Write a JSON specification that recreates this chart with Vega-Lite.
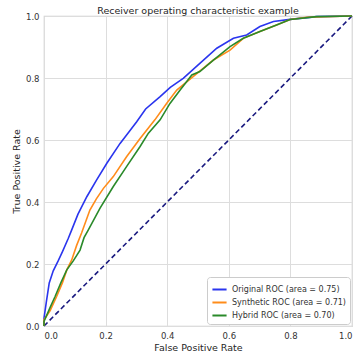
{
  "$schema": "https://vega.github.io/schema/vega-lite/v6.json",
  "autosize": {"type": "none"},
  "padding": {"left": 44, "top": 16, "right": 3, "bottom": 30},
  "width": 308,
  "height": 310,
  "title": {"text": "Receiver operating characteristic example", "fontSize": 9.5, "fontWeight": "normal", "font": "DejaVu Sans", "color": "#262626", "offset": -3},
  "config": {
    "view": {"stroke": "#cccccc", "strokeWidth": 1.2},
    "axis": {"grid": true, "gridColor": "#dddddd", "gridWidth": 1, "domain": false, "ticks": false, "labelFont": "DejaVu Sans", "labelFontSize": 8.5, "labelColor": "#333333", "titleFont": "DejaVu Sans", "titleFontSize": 9.5, "titleFontWeight": "normal", "titleColor": "#262626", "labelPadding": 5},
    "legend": {"labelFont": "DejaVu Sans", "labelFontSize": 8, "labelColor": "#333333"}
  },
  "datasets": {
    "roc": [
      {"model": "Original ROC (area = 0.75)", "fpr": 0, "tpr": 0},
      {"model": "Original ROC (area = 0.75)", "fpr": 0, "tpr": 0.025},
      {"model": "Original ROC (area = 0.75)", "fpr": 0.008, "tpr": 0.08},
      {"model": "Original ROC (area = 0.75)", "fpr": 0.017, "tpr": 0.139},
      {"model": "Original ROC (area = 0.75)", "fpr": 0.03, "tpr": 0.178},
      {"model": "Original ROC (area = 0.75)", "fpr": 0.046, "tpr": 0.21},
      {"model": "Original ROC (area = 0.75)", "fpr": 0.06, "tpr": 0.24},
      {"model": "Original ROC (area = 0.75)", "fpr": 0.079, "tpr": 0.283},
      {"model": "Original ROC (area = 0.75)", "fpr": 0.09, "tpr": 0.31},
      {"model": "Original ROC (area = 0.75)", "fpr": 0.11, "tpr": 0.36},
      {"model": "Original ROC (area = 0.75)", "fpr": 0.139, "tpr": 0.417},
      {"model": "Original ROC (area = 0.75)", "fpr": 0.17, "tpr": 0.47},
      {"model": "Original ROC (area = 0.75)", "fpr": 0.204, "tpr": 0.525},
      {"model": "Original ROC (area = 0.75)", "fpr": 0.247, "tpr": 0.589},
      {"model": "Original ROC (area = 0.75)", "fpr": 0.275, "tpr": 0.625},
      {"model": "Original ROC (area = 0.75)", "fpr": 0.301, "tpr": 0.659},
      {"model": "Original ROC (area = 0.75)", "fpr": 0.33, "tpr": 0.7},
      {"model": "Original ROC (area = 0.75)", "fpr": 0.377, "tpr": 0.74},
      {"model": "Original ROC (area = 0.75)", "fpr": 0.41, "tpr": 0.77},
      {"model": "Original ROC (area = 0.75)", "fpr": 0.452, "tpr": 0.799},
      {"model": "Original ROC (area = 0.75)", "fpr": 0.506, "tpr": 0.847},
      {"model": "Original ROC (area = 0.75)", "fpr": 0.561, "tpr": 0.896},
      {"model": "Original ROC (area = 0.75)", "fpr": 0.615, "tpr": 0.928},
      {"model": "Original ROC (area = 0.75)", "fpr": 0.658, "tpr": 0.939},
      {"model": "Original ROC (area = 0.75)", "fpr": 0.701, "tpr": 0.966},
      {"model": "Original ROC (area = 0.75)", "fpr": 0.745, "tpr": 0.982},
      {"model": "Original ROC (area = 0.75)", "fpr": 0.799, "tpr": 0.989},
      {"model": "Original ROC (area = 0.75)", "fpr": 0.885, "tpr": 0.998},
      {"model": "Original ROC (area = 0.75)", "fpr": 1, "tpr": 1},
      {"model": "Synthetic ROC (area = 0.71)", "fpr": 0, "tpr": 0},
      {"model": "Synthetic ROC (area = 0.71)", "fpr": 0, "tpr": 0.02},
      {"model": "Synthetic ROC (area = 0.71)", "fpr": 0.02, "tpr": 0.05},
      {"model": "Synthetic ROC (area = 0.71)", "fpr": 0.041, "tpr": 0.095},
      {"model": "Synthetic ROC (area = 0.71)", "fpr": 0.06, "tpr": 0.14},
      {"model": "Synthetic ROC (area = 0.71)", "fpr": 0.074, "tpr": 0.181},
      {"model": "Synthetic ROC (area = 0.71)", "fpr": 0.09, "tpr": 0.213},
      {"model": "Synthetic ROC (area = 0.71)", "fpr": 0.106, "tpr": 0.26},
      {"model": "Synthetic ROC (area = 0.71)", "fpr": 0.122, "tpr": 0.3},
      {"model": "Synthetic ROC (area = 0.71)", "fpr": 0.149, "tpr": 0.374},
      {"model": "Synthetic ROC (area = 0.71)", "fpr": 0.17, "tpr": 0.41},
      {"model": "Synthetic ROC (area = 0.71)", "fpr": 0.193, "tpr": 0.444},
      {"model": "Synthetic ROC (area = 0.71)", "fpr": 0.225, "tpr": 0.482},
      {"model": "Synthetic ROC (area = 0.71)", "fpr": 0.268, "tpr": 0.546},
      {"model": "Synthetic ROC (area = 0.71)", "fpr": 0.312, "tpr": 0.605},
      {"model": "Synthetic ROC (area = 0.71)", "fpr": 0.36, "tpr": 0.665},
      {"model": "Synthetic ROC (area = 0.71)", "fpr": 0.398, "tpr": 0.718},
      {"model": "Synthetic ROC (area = 0.71)", "fpr": 0.431, "tpr": 0.761},
      {"model": "Synthetic ROC (area = 0.71)", "fpr": 0.485, "tpr": 0.805},
      {"model": "Synthetic ROC (area = 0.71)", "fpr": 0.55, "tpr": 0.858},
      {"model": "Synthetic ROC (area = 0.71)", "fpr": 0.604, "tpr": 0.89},
      {"model": "Synthetic ROC (area = 0.71)", "fpr": 0.647, "tpr": 0.928},
      {"model": "Synthetic ROC (area = 0.71)", "fpr": 0.701, "tpr": 0.95},
      {"model": "Synthetic ROC (area = 0.71)", "fpr": 0.755, "tpr": 0.971},
      {"model": "Synthetic ROC (area = 0.71)", "fpr": 0.799, "tpr": 0.989},
      {"model": "Synthetic ROC (area = 0.71)", "fpr": 0.853, "tpr": 0.996},
      {"model": "Synthetic ROC (area = 0.71)", "fpr": 1, "tpr": 1},
      {"model": "Hybrid ROC (area = 0.70)", "fpr": 0, "tpr": 0},
      {"model": "Hybrid ROC (area = 0.70)", "fpr": 0, "tpr": 0.015},
      {"model": "Hybrid ROC (area = 0.70)", "fpr": 0.02, "tpr": 0.06},
      {"model": "Hybrid ROC (area = 0.70)", "fpr": 0.036, "tpr": 0.095},
      {"model": "Hybrid ROC (area = 0.70)", "fpr": 0.055, "tpr": 0.14},
      {"model": "Hybrid ROC (area = 0.70)", "fpr": 0.074, "tpr": 0.181},
      {"model": "Hybrid ROC (area = 0.70)", "fpr": 0.095, "tpr": 0.21},
      {"model": "Hybrid ROC (area = 0.70)", "fpr": 0.117, "tpr": 0.245},
      {"model": "Hybrid ROC (area = 0.70)", "fpr": 0.13, "tpr": 0.285},
      {"model": "Hybrid ROC (area = 0.70)", "fpr": 0.144, "tpr": 0.31},
      {"model": "Hybrid ROC (area = 0.70)", "fpr": 0.182, "tpr": 0.38},
      {"model": "Hybrid ROC (area = 0.70)", "fpr": 0.225, "tpr": 0.45},
      {"model": "Hybrid ROC (area = 0.70)", "fpr": 0.268, "tpr": 0.514},
      {"model": "Hybrid ROC (area = 0.70)", "fpr": 0.312, "tpr": 0.579},
      {"model": "Hybrid ROC (area = 0.70)", "fpr": 0.339, "tpr": 0.622},
      {"model": "Hybrid ROC (area = 0.70)", "fpr": 0.377, "tpr": 0.665},
      {"model": "Hybrid ROC (area = 0.70)", "fpr": 0.409, "tpr": 0.718},
      {"model": "Hybrid ROC (area = 0.70)", "fpr": 0.442, "tpr": 0.761},
      {"model": "Hybrid ROC (area = 0.70)", "fpr": 0.48, "tpr": 0.81},
      {"model": "Hybrid ROC (area = 0.70)", "fpr": 0.506, "tpr": 0.821},
      {"model": "Hybrid ROC (area = 0.70)", "fpr": 0.55, "tpr": 0.858},
      {"model": "Hybrid ROC (area = 0.70)", "fpr": 0.604, "tpr": 0.901},
      {"model": "Hybrid ROC (area = 0.70)", "fpr": 0.647, "tpr": 0.928},
      {"model": "Hybrid ROC (area = 0.70)", "fpr": 0.701, "tpr": 0.95},
      {"model": "Hybrid ROC (area = 0.70)", "fpr": 0.755, "tpr": 0.971},
      {"model": "Hybrid ROC (area = 0.70)", "fpr": 0.799, "tpr": 0.989},
      {"model": "Hybrid ROC (area = 0.70)", "fpr": 0.885, "tpr": 0.998},
      {"model": "Hybrid ROC (area = 0.70)", "fpr": 1, "tpr": 1}
    ],
    "diag": [{"fpr": 0, "tpr": 0}, {"fpr": 1, "tpr": 1}]
  },
  "layer": [
    {
      "data": {"name": "diag"},
      "mark": {"type": "line", "color": "#1a1a80", "strokeDash": [5, 3], "strokeWidth": 1.6},
      "encoding": {
        "x": {"field": "fpr", "type": "quantitative"},
        "y": {"field": "tpr", "type": "quantitative"}
      }
    },
    {
      "data": {"name": "roc"},
      "mark": {"type": "line", "strokeWidth": 1.6},
      "encoding": {
        "x": {"field": "fpr", "type": "quantitative", "scale": {"domain": [0, 1], "nice": false}, "axis": {"title": "False Positive Rate", "values": [0, 0.2, 0.4, 0.6, 0.8, 1], "format": ".1f", "titlePadding": 3}},
        "y": {"field": "tpr", "type": "quantitative", "scale": {"domain": [0, 1], "nice": false}, "axis": {"title": "True Positive Rate", "values": [0, 0.2, 0.4, 0.6, 0.8, 1], "format": ".1f", "titlePadding": 4}},
        "color": {"field": "model", "type": "nominal", "sort": null,
          "scale": {"domain": ["Original ROC (area = 0.75)", "Synthetic ROC (area = 0.71)", "Hybrid ROC (area = 0.70)"], "range": ["#2a35ee", "#ff8c1a", "#2a8a2a"]},
          "legend": {"title": null, "orient": "bottom-right", "symbolType": "stroke", "symbolStrokeWidth": 2, "symbolSize": 200, "labelOffset": 4, "fillColor": "white", "strokeColor": "#cccccc", "padding": 4, "cornerRadius": 3, "offset": 2, "rowPadding": 0}
        },
        "order": {"field": "fpr", "type": "quantitative"}
      }
    }
  ]
}
